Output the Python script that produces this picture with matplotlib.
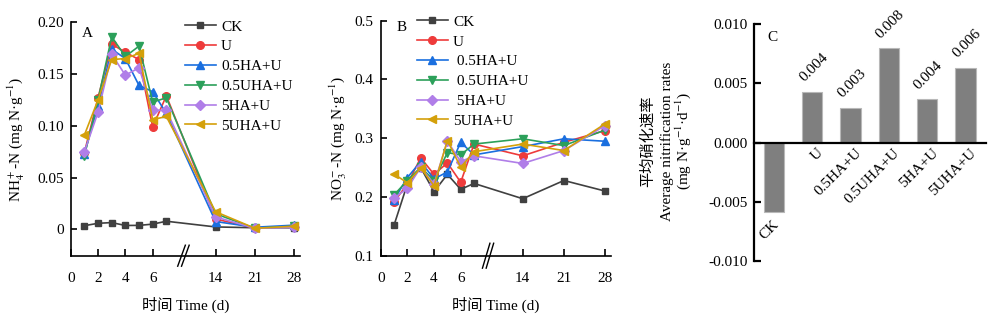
import matplotlib
matplotlib.use('Agg')
import matplotlib.pyplot as plt
import matplotlib.transforms as mtransforms

plt.rcParams['font.family'] = ['Liberation Serif', 'Noto Sans CJK SC']
plt.rcParams['mathtext.fontset'] = 'stix'
plt.rcParams['font.size'] = 11

# ---------------- data ----------------
days = [1, 2, 3, 4, 5, 6, 7, 14, 21, 28]
x_tick_days = [0, 2, 4, 6, 14, 21, 28]
x_tick_labels = ['0', '2', '4', '6', '14', '21', '28']
treatments = ['CK', 'U', '0.5HA+U', '0.5UHA+U', '5HA+U', '5UHA+U']

nh4_ck = [0.0035, 0.0058, 0.0065, 0.0037, 0.0038, 0.0050, 0.0078, 0.0023, 0.0015, 0.0015]
nh4_u = [0.074, 0.127, 0.179, 0.171, 0.164, 0.099, 0.129, 0.010, 0.001, 0.003]
nh4_05ha = [0.073, 0.119, 0.174, 0.165, 0.139, 0.133, 0.112, 0.0075, 0.002, 0.004]
nh4_05uha = [0.071, 0.125, 0.186, 0.167, 0.177, 0.123, 0.127, 0.015, 0.001, 0.003]
nh4_5ha = [0.075, 0.113, 0.169, 0.149, 0.156, 0.115, 0.115, 0.012, 0.001, 0.002]
nh4_5uha = [0.091, 0.125, 0.164, 0.165, 0.170, 0.106, 0.109, 0.017, 0.001, 0.003]

no3_ck = [0.152, 0.222, 0.250, 0.209, 0.2385, 0.213, 0.223, 0.197, 0.228, 0.210]
no3_u = [0.1915, 0.222, 0.2665, 0.2385, 0.258, 0.225, 0.290, 0.270, 0.293, 0.313]
no3_05ha = [0.195, 0.233, 0.260, 0.2307, 0.2426, 0.293, 0.2716, 0.2857, 0.299, 0.2948]
no3_05uha = [0.2034, 0.228, 0.2505, 0.228, 0.2755, 0.2716, 0.290, 0.299, 0.2874, 0.314]
no3_5ha = [0.198, 0.2147, 0.2505, 0.222, 0.295, 0.260, 0.270, 0.257, 0.279, 0.3215]
no3_5uha = [0.239, 0.224, 0.2494, 0.219, 0.296, 0.2505, 0.277, 0.290, 0.279, 0.3245]

rate_values = [-0.0059, 0.00426, 0.00293, 0.00797, 0.00364, 0.0063]

a_yticks = [0, 0.05, 0.10, 0.15, 0.20]
a_yticklabels = ['0', '0.05', '0.10', '0.15', '0.20']
b_yticks = [0.1, 0.2, 0.3, 0.4, 0.5]
b_yticklabels = ['0.1', '0.2', '0.3', '0.4', '0.5']
c_yticks = [-0.010, -0.005, 0.0, 0.005, 0.010]
c_yticklabels = ['-0.010', '-0.005', '0.000', '0.005', '0.010']

# ---------------- styles ----------------
colors = ['#404040', '#ee3b3b', '#1a6fdf', '#2ca05a', '#b07ee8', '#d4a00a']
markers = ['s', 'o', '^', 'v', 'D', '<']
msizes = [4.2, 5.5, 6, 6, 4.8, 6]

nh4_all = [nh4_ck, nh4_u, nh4_05ha, nh4_05uha, nh4_5ha, nh4_5uha]
no3_all = [no3_ck, no3_u, no3_05ha, no3_05uha, no3_5ha, no3_5uha]


def make_pos(start14, step7):
    def pos(d):
        return d if d <= 7 else start14 + (d - 14) / 7.0 * step7
    return pos


posA = make_pos(10.60, 2.88)
posB = make_pos(10.65, 3.09)

fig = plt.figure(figsize=(10, 3.22), dpi=100)
axA = fig.add_axes([0.0707, 0.2059, 0.2293, 0.7248])
axB = fig.add_axes([0.3807, 0.2059, 0.2303, 0.7298])
axC = fig.add_axes([0.7543, 0.1904, 0.2314, 0.7341])


def style_line_axes(ax, pos, xmax, ylim, yticks, yticklabels, brk_x, brk_dy, letter, lx, ly):
    ax.set_xlim(0, xmax)
    ax.set_ylim(*ylim)
    for s in ['top', 'right']:
        ax.spines[s].set_visible(False)
    for s in ['left', 'bottom']:
        ax.spines[s].set_linewidth(1.2)
    ax.set_xticks([pos(d) for d in x_tick_days])
    ax.set_xticklabels(x_tick_labels)
    ax.set_yticks(yticks)
    ax.set_yticklabels(yticklabels)
    ax.tick_params(axis='x', direction='in', length=5, width=1.2, pad=11.5)
    ax.tick_params(axis='y', direction='in', length=4, width=1.2, pad=5)
    ax.set_xlabel('时间 Time (d)', labelpad=9)
    # axis break marks
    tr = mtransforms.blended_transform_factory(ax.transData, ax.transAxes)
    for off in (-0.14, 0.14):
        ax.plot([brk_x + off - 0.28, brk_x + off + 0.28], [-brk_dy, brk_dy],
                transform=tr, color='black', lw=1.0, clip_on=False)
    ax.text(lx, ly, letter, transform=ax.transAxes, ha='center', va='center')


for i, name in enumerate(treatments):
    axA.plot([posA(d) for d in days], nh4_all[i], color=colors[i], marker=markers[i],
             markersize=msizes[i], lw=1.2, label=name, clip_on=False)
    axB.plot([posB(d) for d in days], no3_all[i], color=colors[i], marker=markers[i],
             markersize=msizes[i], lw=1.2, label=(name if i < 2 or i == 5 else ' ' + name), clip_on=False)

style_line_axes(axA, posA, 16.78, (-0.0255, 0.20), a_yticks, a_yticklabels, 8.25, 0.045, 'A', 0.071, 0.953)
style_line_axes(axB, posB, 17.27, (0.1, 0.5), b_yticks, b_yticklabels, 8.05, 0.053, 'B', 0.091, 0.969)
axA.set_ylabel(r'NH$_4^+$-N (mg N·g$^{-1}$)', labelpad=7)
axB.set_ylabel(r'NO$_3^-$-N (mg N·g$^{-1}$)', labelpad=4)

legkw = dict(loc='upper left', frameon=False, borderpad=0, borderaxespad=0,
             handlelength=2.0, handletextpad=0.36, labelspacing=0.4, fontsize=11)
axA.legend(bbox_to_anchor=(0.185, 1 - 20.0 / 322), bbox_transform=fig.transFigure, **legkw)
axB.legend(bbox_to_anchor=(0.417, 1 - 15.0 / 322), bbox_transform=fig.transFigure, **legkw)

# ---------------- panel C ----------------
xs = list(range(len(treatments)))
axC.bar(xs, rate_values, width=0.53, color='#7f7f7f', edgecolor='#b8b8b8', linewidth=0.8)
axC.set_xlim(-0.51, 5.53)
axC.set_ylim(-0.010, 0.010)
axC.spines['top'].set_visible(False)
axC.spines['right'].set_visible(False)
axC.spines['bottom'].set_position(('data', 0))
axC.spines['left'].set_linewidth(1.6)
axC.spines['bottom'].set_linewidth(1.6)
axC.set_xticks([])
axC.set_yticks(c_yticks)
axC.set_yticklabels(c_yticklabels)
axC.tick_params(axis='y', direction='in', length=5, width=1.6, pad=5)
for i, v in enumerate(rate_values):
    if v > 0:
        axC.annotate(f'{v:.3f}', xy=(i, v), xytext=(1, 17.5), textcoords='offset points',
                     rotation=45, ha='center', va='center')
        axC.annotate(treatments[i], xy=(i, 0), xytext=(6.5, -6), textcoords='offset points',
                     rotation=45, ha='right', va='center', rotation_mode='anchor')
    else:
        axC.annotate(treatments[i], xy=(i, v), xytext=(2, -7.5), textcoords='offset points',
                     rotation=45, ha='right', va='center', rotation_mode='anchor')
axC.text(0.0795, 0.943, 'C', transform=axC.transAxes, ha='center', va='center')

cy = 1 - 141.0 / 322
fig.text(0.647, cy, '平均硝化速率', rotation=90, ha='center', va='center',
         family=['Noto Sans CJK SC'])
fig.text(0.6667, cy, 'Average nitrification rates', rotation=90, ha='center', va='center')
fig.text(0.6835, cy, r'(mg N·g$^{-1}$·d$^{-1}$)', rotation=90, ha='center', va='center')

fig.savefig('out.png', dpi=100)
